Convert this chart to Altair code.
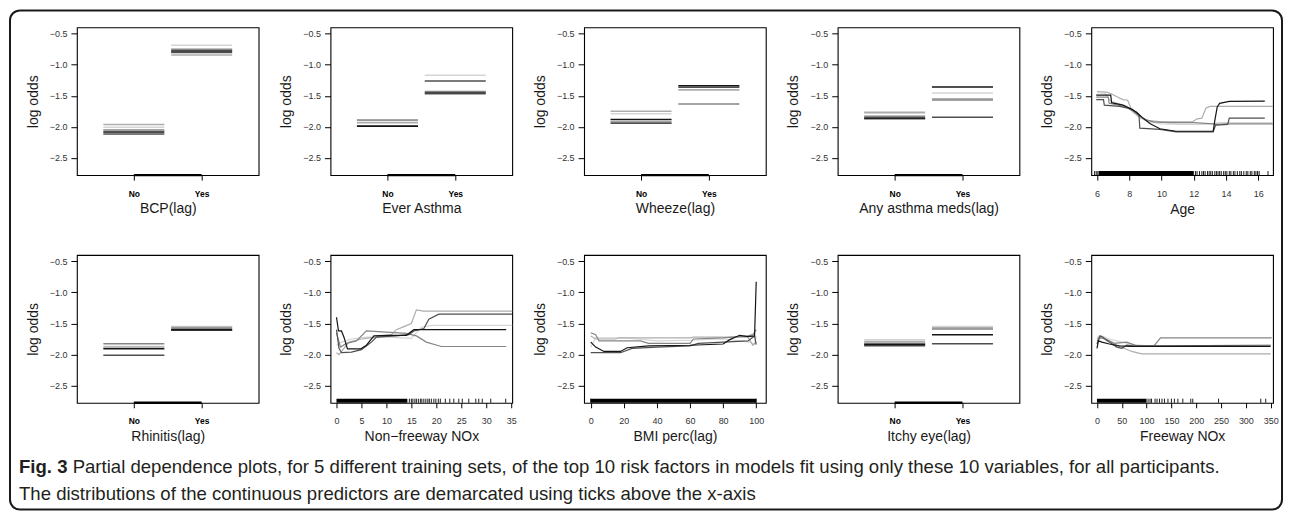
import altair as alt
import pandas as pd

FONT = "Liberation Sans"
CAP_FONT = "Liberation Sans"

SERIES = ["s1", "s2", "s3", "s4", "s5"]
GRAYS = ["#151515", "#4f4f4f", "#858585", "#adadad", "#d5d5d5"]
LEVEL_TICKS = [1, 2]
Y_TICKS = [-2.5, -2.0, -1.5, -1.0, -0.5]
Y_DOM = [-2.776, -0.398]
CAT_DOM = [0.16, 2.84]

# ---- categorical predictors: log odds per training set (No, Yes)
BCP_NO = [-2.08, -2.116, -2.05, -1.96, -2.004]
BCP_YES = [-0.777, -0.804, -0.751, -0.841, -0.687]
EVER_NO = [-1.99, -1.985, -1.89, -1.935, -1.90]
EVER_YES = [-1.455, -1.26, -1.43, -1.476, -1.17]
WHEEZE_NO = [-1.88, -1.94, -1.92, -1.748, -1.79]
WHEEZE_YES = [-1.337, -1.36, -1.63, -1.40, -1.41]
MEDS_NO = [-1.855, -1.87, -1.828, -1.764, -1.78]
MEDS_YES = [-1.359, -1.844, -1.567, -1.545, -1.455]
RHIN_NO = [-1.905, -2.01, -1.825, -1.88, -1.87]
RHIN_YES = [-1.60, -1.61, -1.575, -1.56, -1.55]
ITCHY_NO = [-1.84, -1.86, -1.82, -1.79, -1.76]
ITCHY_YES = [-1.68, -1.825, -1.59, -1.57, -1.547]

# ---- Age
AGE_S1_X = [5.95, 6.85, 6.9, 7.6, 8.2, 8.6, 8.9, 9.3, 9.9, 10.9, 13.2, 13.3, 13.45, 13.6, 14.2, 16.4]
AGE_S1_Y = [-1.49, -1.49, -1.61, -1.65, -1.72, -1.80, -1.87, -1.95, -2.03, -2.07, -2.07, -1.90, -1.68, -1.62, -1.59, -1.585]
AGE_S2_X = [5.95, 6.4, 6.45, 7.4, 7.9, 8.45, 8.6, 8.65, 9.9, 10.9, 13.2, 13.35, 14.1, 14.2, 16.4]
AGE_S2_Y = [-1.56, -1.56, -1.65, -1.67, -1.70, -1.76, -1.80, -2.02, -2.04, -2.08, -2.08, -1.97, -1.96, -1.86, -1.86]
AGE_S3_X = [5.95, 6.7, 6.75, 7.5, 8.0, 8.5, 9.0, 9.5, 10.5, 12.0, 13.2, 13.5, 14.0, 16.9]
AGE_S3_Y = [-1.52, -1.52, -1.62, -1.66, -1.70, -1.80, -1.88, -1.92, -1.93, -1.93, -1.95, -1.96, -1.95, -1.95]
AGE_S4_X = [6.0, 6.6, 6.9, 7.2, 7.6, 7.9, 8.1, 8.6, 9.2, 10.0, 11.9, 12.2, 12.5, 12.75, 13.0, 16.9]
AGE_S4_Y = [-1.43, -1.44, -1.47, -1.51, -1.56, -1.57, -1.70, -1.84, -1.90, -1.92, -1.92, -1.87, -1.86, -1.70, -1.67, -1.67]
AGE_S5_X = [6.0, 6.5, 6.8, 7.3, 7.8, 8.2, 8.7, 9.2, 10.0, 11.0, 12.5, 13.2, 13.6, 16.9]
AGE_S5_Y = [-1.45, -1.46, -1.58, -1.62, -1.66, -1.76, -1.86, -1.92, -1.95, -1.96, -1.96, -1.95, -1.93, -1.93]
AGE_TICKS = [6, 8, 10, 12, 14, 16]
AGE_DOM = [5.644, 16.91]
AGE_RUG_BAND = [6.1, 12.0]
AGE_RUG = [5.85, 5.95, 6.05, 12.1, 12.2, 12.35, 12.5, 12.6, 12.7, 12.85, 12.95, 13.05, 13.15, 13.3,
           13.4, 13.5, 13.6, 13.7, 13.85, 13.95, 14.05, 14.2, 14.3, 14.45, 14.55, 14.7, 14.85, 14.95,
           15.1, 15.25, 15.35, 15.5, 15.6, 15.75, 15.85, 15.95, 16.05, 16.6]

# ---- Non-freeway NOx
NFW_S1_X = [0.0, 0.4, 1.0, 1.5, 2.2, 4.8, 6.0, 7.5, 10.0, 14.0, 15.5, 34.0]
NFW_S1_Y = [-1.40, -1.62, -1.62, -1.72, -1.91, -1.91, -1.85, -1.70, -1.69, -1.69, -1.60, -1.60]
NFW_S2_X = [0.0, 0.5, 1.0, 3.0, 5.0, 7.0, 8.0, 12.0, 14.5, 15.5, 17.5, 18.5, 20.5, 35.2]
NFW_S2_Y = [-1.60, -1.90, -1.97, -1.96, -1.92, -1.80, -1.72, -1.70, -1.68, -1.62, -1.58, -1.43, -1.35, -1.35]
NFW_S3_X = [0.0, 0.8, 2.0, 4.0, 6.0, 10.0, 14.0, 16.0, 18.0, 21.0, 34.0]
NFW_S3_Y = [-1.65, -1.88, -1.82, -1.78, -1.62, -1.64, -1.66, -1.70, -1.80, -1.87, -1.87]
NFW_S4_X = [0.0, 0.5, 1.0, 2.5, 5.0, 8.0, 11.0, 12.0, 13.5, 15.0, 16.0, 17.5, 35.2]
NFW_S4_Y = [-1.97, -2.00, -1.95, -1.80, -1.75, -1.72, -1.68, -1.60, -1.55, -1.50, -1.28, -1.30, -1.30]
NFW_S5_X = [0.0, 1.0, 3.0, 6.0, 10.0, 15.0, 17.0, 19.0, 35.2]
NFW_S5_Y = [-1.85, -1.80, -1.75, -1.72, -1.72, -1.74, -1.56, -1.53, -1.53]
NFW_TICKS = [0, 5, 10, 15, 20, 25, 30, 35]
NFW_DOM = [-1.2, 35.2]
NFW_RUG_BAND = [0.0, 14.2]
NFW_RUG = [14.6, 15.0, 15.3, 15.7, 16.0, 16.4, 16.8, 17.1, 17.5, 17.9, 18.3, 18.6, 19.0, 19.5, 19.9,
           20.4, 20.8, 21.8, 22.7, 23.5, 24.5, 25.2, 26.5, 27.9, 28.5, 29.2, 30.9, 33.9]

# ---- BMI percentile
BMI_S1_X = [0, 3, 8, 18, 22, 35, 60, 80, 84, 90, 95, 99, 100]
BMI_S1_Y = [-1.80, -1.88, -1.95, -1.95, -1.89, -1.86, -1.85, -1.83, -1.76, -1.69, -1.71, -1.70, -0.83]
BMI_S2_X = [0, 18, 25, 40, 60, 65, 80, 95, 99, 100]
BMI_S2_Y = [-1.97, -1.97, -1.90, -1.88, -1.86, -1.82, -1.80, -1.78, -1.70, -1.84]
BMI_S3_X = [0, 3, 5, 30, 35, 60, 62, 80, 95, 98, 100]
BMI_S3_Y = [-1.65, -1.68, -1.78, -1.78, -1.82, -1.82, -1.75, -1.73, -1.70, -1.68, -1.60]
BMI_S4_X = [0, 3, 15, 17, 60, 62, 95, 98, 100]
BMI_S4_Y = [-1.70, -1.75, -1.75, -1.73, -1.73, -1.72, -1.72, -1.85, -1.80]
BMI_S5_X = [0, 3, 20, 40, 60, 80, 96, 99, 100]
BMI_S5_Y = [-1.88, -1.73, -1.73, -1.78, -1.77, -1.75, -1.80, -1.83, -1.70]
BMI_TICKS = [0, 20, 40, 60, 80, 100]
BMI_DOM = [-4.0, 105.8]
BMI_RUG_BAND = [0.0, 100.0]
BMI_RUG = [0.0, 100.0]

# ---- Freeway NOx
FW_S1_X = [0, 3, 10, 25, 45, 70, 350]
FW_S1_Y = [-1.90, -1.78, -1.80, -1.83, -1.86, -1.87, -1.87]
FW_S2_X = [0, 6, 12, 25, 40, 50, 60, 75, 350]
FW_S2_Y = [-1.83, -1.70, -1.72, -1.80, -1.88, -1.90, -1.85, -1.86, -1.85]
FW_S3_X = [0, 8, 20, 35, 60, 80, 115, 128, 352]
FW_S3_Y = [-1.78, -1.73, -1.76, -1.82, -1.80, -1.86, -1.86, -1.73, -1.73]
FW_S4_X = [0, 8, 20, 40, 70, 90, 350]
FW_S4_Y = [-1.75, -1.70, -1.78, -1.85, -1.95, -1.99, -1.99]
FW_S5_X = [0, 10, 25, 50, 75, 100, 350]
FW_S5_Y = [-1.72, -1.70, -1.75, -1.80, -1.84, -1.86, -1.85]
FW_TICKS = [0, 50, 100, 150, 200, 250, 300, 350]
FW_DOM = [-11.4, 354.7]
FW_RUG_BAND = [0.0, 100.0]
FW_RUG = [103, 107, 110, 117, 121, 126, 131, 136, 143, 150, 156, 163, 173, 189, 193, 245, 330, 340]

CAPTION_BOLD = "Fig. 3"
CAPTION_1 = ("Partial dependence plots, for 5 different training sets, of the top 10 risk factors in "
             "models fit using only these 10 variables, for all participants.")
CAPTION_2 = "The distributions of the continuous predictors are demarcated using ticks above the x-axis"

PW, PH = 182, 148
RUG_TOP = Y_DOM[0] + 0.066
ONE = pd.DataFrame({"k": [0]})
COLOR = alt.Color("s:N", scale=alt.Scale(domain=SERIES, range=GRAYS), legend=None)


def yscale():
    return alt.Scale(domain=Y_DOM, nice=False, zero=False)


def yaxis():
    return alt.Axis(values=Y_TICKS, format=".1f", title="log odds")


def cat_panel(title, no_vals, yes_vals):
    rows = []
    for lvl, vals in zip(LEVEL_TICKS, (no_vals, yes_vals)):
        for s, v in reversed(list(zip(SERIES, vals))):
            rows.append({"s": s, "lo": lvl - 0.45, "hi": lvl + 0.45, "y": v})
    df = pd.DataFrame(rows)
    xs = alt.Scale(domain=CAT_DOM, nice=False, zero=False)

    def xaxis():
        return alt.Axis(values=LEVEL_TICKS, title=title,
                        labelExpr="datum.value == 1 ? 'No' : 'Yes'",
                        labelFontWeight="bold", labelFontSize=8.5, labelColor="#000")

    lines = alt.Chart(df).mark_rule(strokeWidth=1.5).encode(
        x=alt.X("lo:Q", scale=xs, axis=xaxis()),
        x2=alt.X2("hi"),
        y=alt.Y("y:Q", scale=yscale(), axis=yaxis()),
        color=COLOR,
    )
    seg = alt.Chart(ONE).mark_rule(strokeWidth=2.4, color="#000").encode(
        x=alt.XDatum(LEVEL_TICKS[0], scale=xs, axis=xaxis()),
        x2=alt.X2Datum(LEVEL_TICKS[1]),
        y=alt.YDatum(Y_DOM[0], scale=yscale(), axis=yaxis()),
    )
    return alt.layer(lines, seg).properties(width=PW, height=PH)


def cont_panel(title, xdom, xticks, xs_list, ys_list, band, rug):
    rows = []
    for s, xs, ys in reversed(list(zip(SERIES, xs_list, ys_list))):
        for i, (xv, yv) in enumerate(zip(xs, ys)):
            rows.append({"s": s, "i": i, "x": xv, "y": yv})
    df = pd.DataFrame(rows)
    xsc = alt.Scale(domain=xdom, nice=False, zero=False)

    def xaxis():
        return alt.Axis(values=xticks, title=title)

    bandm = alt.Chart(pd.DataFrame({"a": [band[0]], "b": [band[1]]})).mark_rect(color="#000").encode(
        x=alt.X("a:Q", scale=xsc, axis=xaxis()),
        x2=alt.X2("b"),
        y=alt.YDatum(Y_DOM[0], scale=yscale(), axis=yaxis()),
        y2=alt.Y2Datum(RUG_TOP),
    )
    rugm = alt.Chart(pd.DataFrame({"v": rug})).mark_rule(color="#000", strokeWidth=0.9).encode(
        x=alt.X("v:Q", scale=xsc, axis=xaxis()),
        y=alt.YDatum(Y_DOM[0], scale=yscale(), axis=yaxis()),
        y2=alt.Y2Datum(RUG_TOP),
    )
    lines = alt.Chart(df).mark_line(strokeWidth=1.2).encode(
        x=alt.X("x:Q", scale=xsc, axis=xaxis()),
        y=alt.Y("y:Q", scale=yscale(), axis=yaxis()),
        color=COLOR,
        order=alt.Order("i:Q"),
    )
    return alt.layer(bandm, rugm, lines).properties(width=PW, height=PH)


panels = [
    cat_panel("BCP(lag)", BCP_NO, BCP_YES),
    cat_panel("Ever Asthma", EVER_NO, EVER_YES),
    cat_panel("Wheeze(lag)", WHEEZE_NO, WHEEZE_YES),
    cat_panel("Any asthma meds(lag)", MEDS_NO, MEDS_YES),
    cont_panel("Age", AGE_DOM, AGE_TICKS,
               [AGE_S1_X, AGE_S2_X, AGE_S3_X, AGE_S4_X, AGE_S5_X],
               [AGE_S1_Y, AGE_S2_Y, AGE_S3_Y, AGE_S4_Y, AGE_S5_Y], AGE_RUG_BAND, AGE_RUG),
    cat_panel("Rhinitis(lag)", RHIN_NO, RHIN_YES),
    cont_panel("Non\u2212freeway NOx", NFW_DOM, NFW_TICKS,
               [NFW_S1_X, NFW_S2_X, NFW_S3_X, NFW_S4_X, NFW_S5_X],
               [NFW_S1_Y, NFW_S2_Y, NFW_S3_Y, NFW_S4_Y, NFW_S5_Y], NFW_RUG_BAND, NFW_RUG),
    cont_panel("BMI perc(lag)", BMI_DOM, BMI_TICKS,
               [BMI_S1_X, BMI_S2_X, BMI_S3_X, BMI_S4_X, BMI_S5_X],
               [BMI_S1_Y, BMI_S2_Y, BMI_S3_Y, BMI_S4_Y, BMI_S5_Y], BMI_RUG_BAND, BMI_RUG),
    cat_panel("Itchy eye(lag)", ITCHY_NO, ITCHY_YES),
    cont_panel("Freeway NOx", FW_DOM, FW_TICKS,
               [FW_S1_X, FW_S2_X, FW_S3_X, FW_S4_X, FW_S5_X],
               [FW_S1_Y, FW_S2_Y, FW_S3_Y, FW_S4_Y, FW_S5_Y], FW_RUG_BAND, FW_RUG),
]

# ---- caption (placed relative to the caption cell origin, which is at page x 76, y 482)
CAP_SIZE = 18.6
# width of the bold lead "Fig. 3 " (Arial-metric bold advance widths per 1000 em)
W_BOLD = {" ": 278, ".": 278, "F": 611, "i": 278, "g": 611, "3": 556}
bold_w = sum(W_BOLD[c] for c in CAPTION_BOLD + " ") * CAP_SIZE / 1000.0
CAP_X = 18 - 76

cap = alt.Chart(ONE)
frame = cap.mark_rect(fill="#ffffff", fillOpacity=0, stroke="#1a1a1a", strokeWidth=2,
                      cornerRadius=10).encode(
    x=alt.value(-67), x2=alt.value(1207), y=alt.value(-473), y2=alt.value(27))
fig = cap.mark_text(align="left", baseline="middle", font=CAP_FONT, fontSize=CAP_SIZE,
                    fontWeight="bold", color="#231f20").encode(
    x=alt.value(CAP_X), y=alt.value(-16), text=alt.value(CAPTION_BOLD))
line1 = cap.mark_text(align="left", baseline="middle", font=CAP_FONT, fontSize=CAP_SIZE,
                      color="#231f20").encode(
    x=alt.value(CAP_X + bold_w), y=alt.value(-16), text=alt.value(CAPTION_1))
line2 = cap.mark_text(align="left", baseline="middle", font=CAP_FONT, fontSize=CAP_SIZE,
                      color="#231f20").encode(
    x=alt.value(CAP_X), y=alt.value(11), text=alt.value(CAPTION_2))
caption = alt.layer(frame, fig, line1, line2).properties(
    width=PW, height=20, view=alt.ViewBackground(stroke="transparent"))

chart = alt.concat(*panels, caption, columns=5, spacing={"row": 80, "column": 72},
                   bounds="flush").properties(padding=0)

chart = chart.configure_view(stroke="#000", strokeWidth=1.1).configure_axis(
    grid=False, domain=False, tickColor="#000", tickWidth=1,
    labelFont=FONT, titleFont=FONT, labelColor="#333", titleColor="#1a1a1a",
    titleFontWeight="normal", labelFlush=False, labelOverlap=False,
).configure_axisX(
    tickSize=5, labelFontSize=9, labelPadding=9, titleFontSize=14, titlePadding=4,
).configure_axisY(
    tickSize=6, labelFontSize=9, labelPadding=4, titleFontSize=14, titlePadding=9,
)

chart.save("out.html", embed_options={"renderer": "svg", "actions": False})
